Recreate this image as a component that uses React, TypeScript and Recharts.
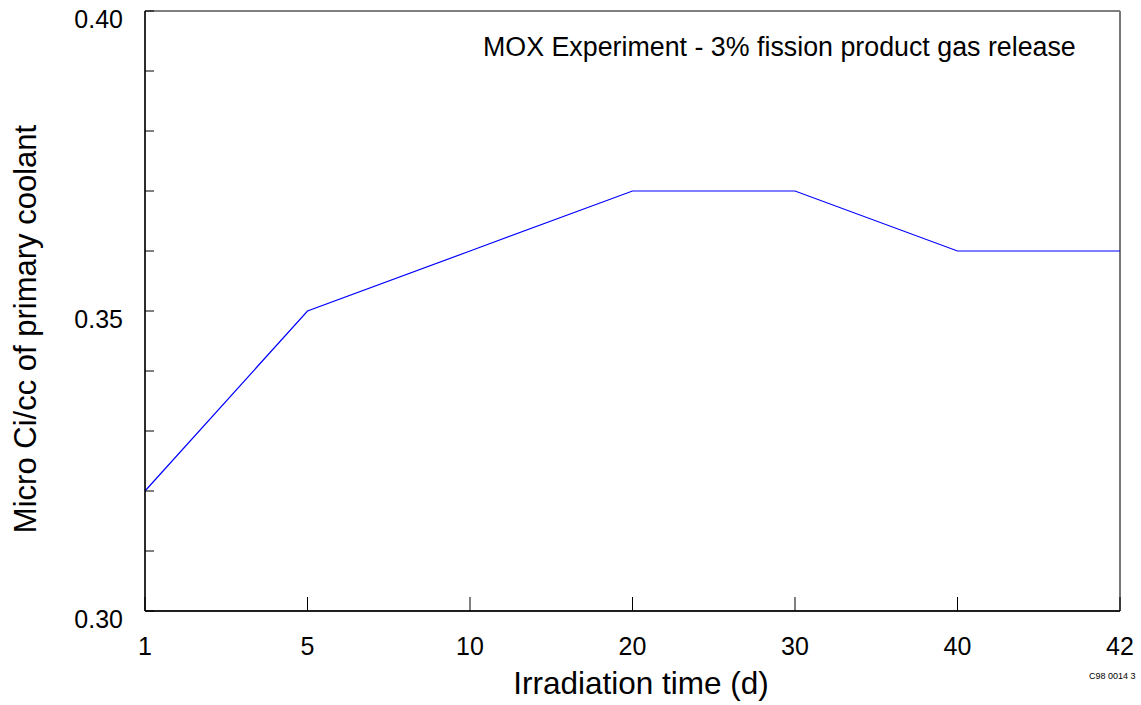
import React from "react";
import { LineChart, Line, XAxis, YAxis, ReferenceArea, ReferenceLine } from "recharts";

const days = ["1", "5", "10", "20", "30", "40", "42"];
const activity = [0.32, 0.35, 0.36, 0.37, 0.37, 0.36, 0.36];
const yTicks = [0.3, 0.31, 0.32, 0.33, 0.34, 0.35, 0.36, 0.37, 0.38, 0.39, 0.4];
const yLabelled = [0.3, 0.35, 0.4];

const data = days.map((d, i) => ({ day: d, value: activity[i] }));

const FONT = '"Liberation Sans", Arial, Helvetica, sans-serif';

// inward ticks, labels only on the major values
const YTick = (props: any) => {
  const { x, y, payload } = props;
  const v = payload.value as number;
  const labelled = yLabelled.some((t) => Math.abs(t - v) < 1e-6);
  return (
    <g>
      <line x1={x} x2={x + 9} y1={y} y2={y} stroke="#000" strokeWidth={1} />
      {labelled ? (
        <text
          x={x - 22}
          y={y + 8}
          dy="0.36em"
          textAnchor="end"
          fontFamily={FONT}
          fontSize={25}
          fill="#000"
        >
          {v.toFixed(2)}
        </text>
      ) : null}
    </g>
  );
};

const XTick = (props: any) => {
  const { x, y, payload } = props;
  return (
    <g>
      <line x1={x} x2={x} y1={y} y2={y - 14} stroke="#000" strokeWidth={1} />
      <text
        x={x}
        y={y + 35}
        dy="0.36em"
        textAnchor="middle"
        fontFamily={FONT}
        fontSize={25}
        fill="#000"
      >
        {payload.value}
      </text>
    </g>
  );
};

export default function App() {
  return (
    <div
      style={{
        position: "absolute",
        left: 0,
        top: 0,
        width: 1141,
        height: 705,
        background: "#fff",
      }}
    >
      <LineChart
        width={1141}
        height={705}
        data={data}
        margin={{ top: 11, right: 21, bottom: 34, left: 85 }}
      >
        <XAxis
          dataKey="day"
          interval={0}
          height={60}
          tickSize={0}
          tickMargin={0}
          tickLine={false}
          axisLine={{ stroke: "#000", strokeWidth: 1.3 }}
          tick={(p: any) => <XTick {...p} />}
        />
        <YAxis
          type="number"
          domain={[0.3, 0.4]}
          ticks={yTicks}
          interval={0}
          width={60}
          tickSize={0}
          tickMargin={0}
          tickLine={false}
          allowDataOverflow
          axisLine={{ stroke: "#000", strokeWidth: 1.3 }}
          tick={(p: any) => <YTick {...p} />}
        />
        <ReferenceArea
          x1="1"
          x2="42"
          y1={0.3}
          y2={0.4}
          fill="none"
          stroke="#000"
          strokeWidth={1}
        />
        <ReferenceLine x="42" stroke="#777" strokeWidth={2} />
        <Line
          type="linear"
          dataKey="value"
          stroke="#0000ff"
          strokeWidth={1.2}
          dot={false}
          isAnimationActive={false}
        />
      </LineChart>
      <svg
        width={1141}
        height={705}
        style={{ position: "absolute", left: 0, top: 0, pointerEvents: "none" }}
      >
        <text x={483} y={56} fontFamily={FONT} fontSize={26.8} fill="#000">
          MOX Experiment - 3% fission product gas release
        </text>
        <text x={641} y={694} textAnchor="middle" fontFamily={FONT} fontSize={31.5} fill="#000">
          Irradiation time (d)
        </text>
        <text
          x={36}
          y={329}
          transform="rotate(-90 36 329)"
          textAnchor="middle"
          fontFamily={FONT}
          fontSize={31}
          fill="#000"
        >
          Micro Ci/cc of primary coolant
        </text>
        <text x={1089} y={679} fontFamily={FONT} fontSize={9} fill="#000">
          C98 0014 3
        </text>
      </svg>
    </div>
  );
}
